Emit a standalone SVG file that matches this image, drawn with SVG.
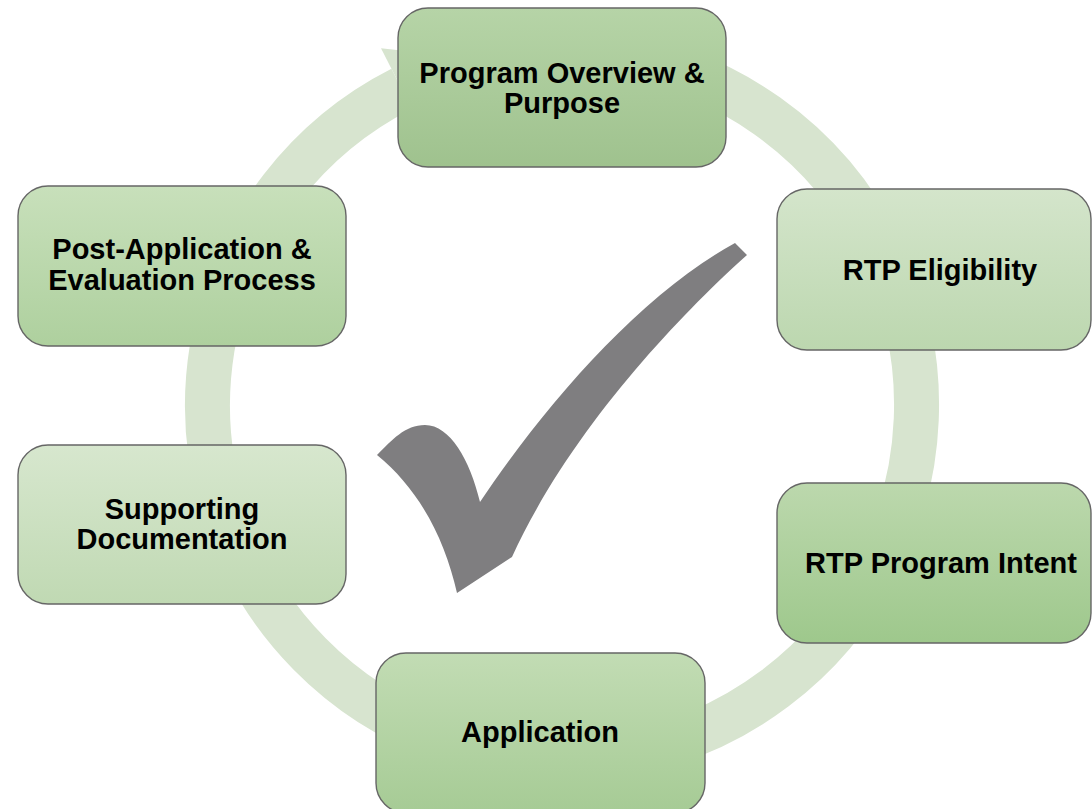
<svg xmlns="http://www.w3.org/2000/svg" width="1092" height="809" viewBox="0 0 1092 809">
<defs>
<linearGradient id="g1" x1="0" y1="0" x2="0" y2="1"><stop offset="0" stop-color="#b6d4a7"/><stop offset="1" stop-color="#9fc28e"/></linearGradient>
<linearGradient id="g2" x1="0" y1="0" x2="0" y2="1"><stop offset="0" stop-color="#d4e5cb"/><stop offset="1" stop-color="#bcd7af"/></linearGradient>
<linearGradient id="g3" x1="0" y1="0" x2="0" y2="1"><stop offset="0" stop-color="#bcd8ad"/><stop offset="1" stop-color="#9ec88c"/></linearGradient>
<linearGradient id="g4" x1="0" y1="0" x2="0" y2="1"><stop offset="0" stop-color="#c2dcb4"/><stop offset="1" stop-color="#a6cb95"/></linearGradient>
<linearGradient id="g5" x1="0" y1="0" x2="0" y2="1"><stop offset="0" stop-color="#d7e7ce"/><stop offset="1" stop-color="#c0d9b3"/></linearGradient>
<linearGradient id="g6" x1="0" y1="0" x2="0" y2="1"><stop offset="0" stop-color="#c8e0bb"/><stop offset="1" stop-color="#aed09e"/></linearGradient>
</defs>
<style>
.box{stroke:#666666;stroke-width:1.4}
.lbl{font-family:"Liberation Sans",Arial,sans-serif;font-weight:bold;font-size:29px;fill:#000;text-anchor:middle}
.ring{fill:none;stroke:#d7e4cf;stroke-width:45}
.head{fill:#d7e4cf}
</style>
<rect width="1092" height="809" fill="#ffffff"/>
<g id="connectors">
<path class="ring" d="M 623.6 55.9 A 354.5 354.5 0 1 1 401.6 88.9"/>
<polygon class="head" points="381,48.3 421.8,128.5 482.2,59.6"/>
</g>
<g id="checkmark">
<path fill="#7f7e80" d="M 735 243 L 747 255 C 680 315, 570 430, 512 557 L 457 593 C 445 540, 420 490, 377 455 C 392 440, 405 425, 425 425 C 450 425, 470 460, 480 502 C 545 405, 640 295, 735 243 Z"/>
</g>
<g id="node-program-overview">
<rect class="box" x="398" y="8" width="328" height="159" rx="30" fill="url(#g1)"/>
<text class="lbl" x="562" y="83">Program Overview &amp;</text>
<text class="lbl" x="562" y="113">Purpose</text>
</g>
<g id="node-rtp-eligibility">
<rect class="box" x="777" y="189" width="314" height="161" rx="30" fill="url(#g2)"/>
<text class="lbl" x="940" y="280">RTP Eligibility</text>
</g>
<g id="node-rtp-program-intent">
<rect class="box" x="777" y="483" width="314" height="160" rx="30" fill="url(#g3)"/>
<text class="lbl" x="941" y="573">RTP Program Intent</text>
</g>
<g id="node-application">
<rect class="box" x="376" y="653" width="329" height="160" rx="30" fill="url(#g4)"/>
<text class="lbl" x="540" y="742">Application</text>
</g>
<g id="node-supporting-documentation">
<rect class="box" x="18" y="445" width="328" height="159" rx="30" fill="url(#g5)"/>
<text class="lbl" x="182" y="519">Supporting</text>
<text class="lbl" x="182" y="549">Documentation</text>
</g>
<g id="node-post-application">
<rect class="box" x="18" y="186" width="328" height="160" rx="30" fill="url(#g6)"/>
<text class="lbl" x="182" y="259">Post-Application &amp;</text>
<text class="lbl" x="182" y="290">Evaluation Process</text>
</g>
</svg>
